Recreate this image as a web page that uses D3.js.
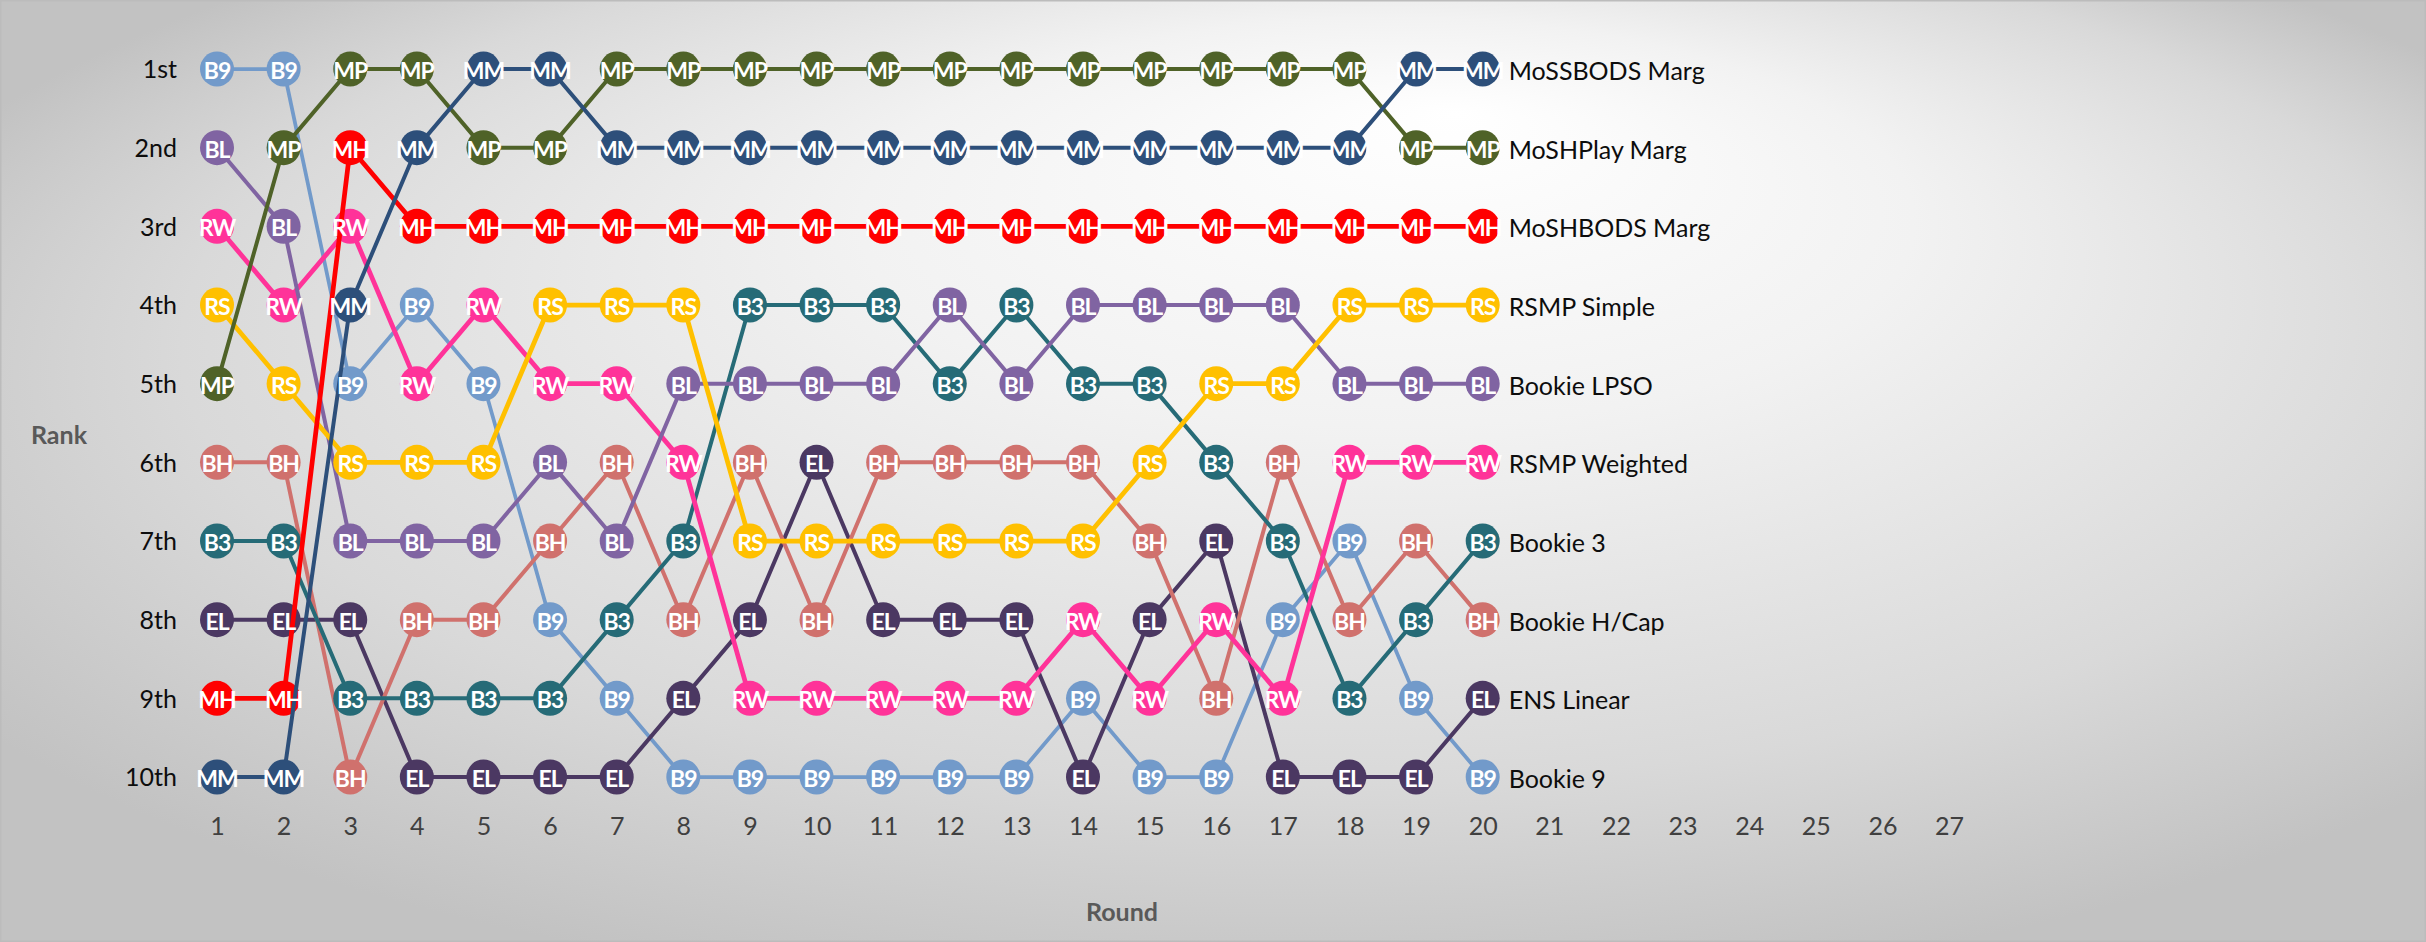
<!DOCTYPE html>
<html>
<head>
<meta charset="utf-8">
<script src="https://cdn.jsdelivr.net/npm/d3@7"></script>
<style>
  html, body { margin: 0; padding: 0; background: #fff; }
  svg { display: block; }
</style>
</head>
<body>
<svg id="chart" width="2426" height="942"></svg>
<script>
// ---- DATA ----
const rounds = [1,2,3,4,5,6,7,8,9,10,11,12,13,14,15,16,17,18,19,20];
const roundTicks = [1,2,3,4,5,6,7,8,9,10,11,12,13,14,15,16,17,18,19,20,21,22,23,24,25,26,27];
const rankTicks = [1,2,3,4,5,6,7,8,9,10];
const rankLabels = ["1st","2nd","3rd","4th","5th","6th","7th","8th","9th","10th"];

// drawing order: first = bottom
const codes = ["B9","EL","BH","B3","RW","BL","RS","MH","MP","MM"];
const names = ["Bookie 9","ENS Linear","Bookie H/Cap","Bookie 3","RSMP Weighted","Bookie LPSO","RSMP Simple","MoSHBODS Marg","MoSHPlay Marg","MoSSBODS Marg"];
const colors = ["#729aca","#4b3862","#d0716d","#266b77","#ff3399","#8064a2","#ffc000","#ff0000","#4f6228","#2d4f7a"];

const rankB9 = [1,1,5,4,5,8,9,10,10,10,10,10,10,9,10,10,8,7,9,10];
const rankEL = [8,8,8,10,10,10,10,9,8,6,8,8,8,10,8,7,10,10,10,9];
const rankBH = [6,6,10,8,8,7,6,8,6,8,6,6,6,6,7,9,6,8,7,8];
const rankB3 = [7,7,9,9,9,9,8,7,4,4,4,5,4,5,5,6,7,9,8,7];
const rankRW = [3,4,3,5,4,5,5,6,9,9,9,9,9,8,9,8,9,6,6,6];
const rankBL = [2,3,7,7,7,6,7,5,5,5,5,4,5,4,4,4,4,5,5,5];
const rankRS = [4,5,6,6,6,4,4,4,7,7,7,7,7,7,6,5,5,4,4,4];
const rankMH = [9,9,2,3,3,3,3,3,3,3,3,3,3,3,3,3,3,3,3,3];
const rankMP = [5,2,1,1,2,2,1,1,1,1,1,1,1,1,1,1,1,1,2,2];
const rankMM = [10,10,4,2,1,1,2,2,2,2,2,2,2,2,2,2,2,2,1,1];

const ranks = [rankB9, rankEL, rankBH, rankB3, rankRW, rankBL, rankRS, rankMH, rankMP, rankMM];
const lineWidths = [3.75, 4, 4, 4, 4.75, 4, 4.75, 4.75, 4, 4];

const series = codes.map((c, i) => ({
  code: c, name: names[i], color: colors[i], width: lineWidths[i],
  values: rounds.map((r, j) => ({ round: r, rank: ranks[i][j] }))
}));

// ---- CHART ----
const W = 2426, H = 942;
const svg = d3.select("#chart");
const defs = svg.append("defs");
const grad = defs.append("radialGradient")
  .attr("id", "bg")
  .attr("cx", "0.52").attr("cy", "0.45")
  .attr("fx", "0.6").attr("fy", "0.12")
  .attr("r", "0.62");
grad.append("stop").attr("offset", "0").attr("stop-color", "#ffffff");
grad.append("stop").attr("offset", "0.35").attr("stop-color", "#f2f2f2");
grad.append("stop").attr("offset", "0.75").attr("stop-color", "#d9d9d9");
grad.append("stop").attr("offset", "1").attr("stop-color", "#c2c2c2");

svg.append("rect").attr("x", 0).attr("y", 0).attr("width", W).attr("height", H)
  .attr("fill", "url(#bg)");
svg.append("rect").attr("x", 0.75).attr("y", 0.75).attr("width", W - 1.5).attr("height", H - 1.5)
  .attr("fill", "none").attr("stroke", "#bcbcbc").attr("stroke-width", 1.5);

const x = d3.scaleLinear().domain([1, 27]).range([217, 1949]);
const y = d3.scaleLinear().domain([1, 10]).range([69, 777]);

const fontFam = "Lato, 'Open Sans', sans-serif";

// x axis (no line, no ticks)
const xAxis = svg.append("g")
  .attr("transform", "translate(0,818)")
  .call(d3.axisBottom(x).tickValues(roundTicks).tickSize(0).tickPadding(0).tickFormat(d3.format("d")));
xAxis.select(".domain").remove();
xAxis.selectAll("text")
  .attr("font-family", fontFam).attr("font-size", 25).attr("fill", "#404040")
  .attr("dy", "0.68em");

// y axis
const yAxis = svg.append("g")
  .attr("transform", "translate(177,0)")
  .call(d3.axisLeft(y).tickValues(rankTicks).tickSize(0).tickPadding(0)
    .tickFormat((d, i) => rankLabels[i]));
yAxis.select(".domain").remove();
yAxis.selectAll("text")
  .attr("font-family", fontFam).attr("font-size", 25).attr("fill", "#0d0d0d")
  .attr("dy", "0.35em");

// axis titles
svg.append("text").attr("x", 59).attr("y", 434)
  .attr("text-anchor", "middle").attr("dominant-baseline", "central")
  .attr("font-family", fontFam).attr("font-weight", 700).attr("font-size", 25)
  .attr("fill", "#595959").text("Rank");
svg.append("text").attr("x", 1122).attr("y", 911)
  .attr("text-anchor", "middle").attr("dominant-baseline", "central")
  .attr("font-family", fontFam).attr("font-weight", 700).attr("font-size", 25)
  .attr("fill", "#595959").text("Round");

const line = d3.line().x(d => x(d.round)).y(d => y(d.rank));

const gSeries = svg.append("g");
series.forEach(s => {
  const g = gSeries.append("g");
  g.append("path").datum(s.values).attr("d", line)
    .attr("fill", "none").attr("stroke", s.color).attr("stroke-width", s.width)
    .attr("stroke-linejoin", "round");
  g.selectAll("ellipse").data(s.values).join("ellipse")
    .attr("cx", d => x(d.round)).attr("cy", d => y(d.rank))
    .attr("rx", 17).attr("ry", 17.5)
    .attr("fill", s.color);
});

// data labels on top
const gLabels = svg.append("g");
series.forEach(s => {
  gLabels.selectAll(null).data(s.values).join("text")
    .attr("x", d => x(d.round)).attr("y", d => y(d.rank) + 1)
    .attr("text-anchor", "middle").attr("dominant-baseline", "central")
    .attr("font-family", fontFam).attr("font-weight", 700).attr("font-size", 23)
    .attr("letter-spacing", -1)
    .attr("fill", "#ffffff").text(s.code);
  const last = s.values[s.values.length - 1];
  gLabels.append("text")
    .attr("x", x(last.round) + 26).attr("y", y(last.rank) + 1)
    .attr("dominant-baseline", "central")
    .attr("font-family", fontFam).attr("font-size", 25)
    .attr("fill", "#0d0d0d").text(s.name);
});
</script>
</body>
</html>
